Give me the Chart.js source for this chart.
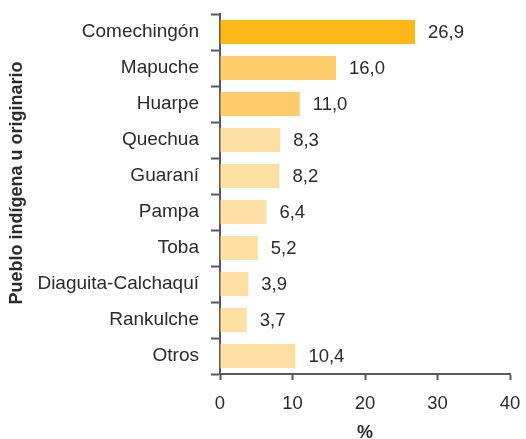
<!DOCTYPE html>
<html lang="es">
<head>
<meta charset="utf-8">
<title>Pueblo indígena u originario</title>
<script src="https://cdn.jsdelivr.net/npm/chart.js@4.4.1/dist/chart.umd.min.js"></script>
<style>
  html, body { margin: 0; padding: 0; background: #fff; }
  #wrap { position: relative; width: 526px; height: 439px; }
</style>
</head>
<body>
<div id="wrap"><canvas id="grafico"></canvas></div>
<script>
// Datos
const pueblos = ['Comechingón', 'Mapuche', 'Huarpe', 'Quechua', 'Guaraní', 'Pampa', 'Toba', 'Diaguita-Calchaquí', 'Rankulche', 'Otros'];
const porcentajes = [26.9, 16.0, 11.0, 8.3, 8.2, 6.4, 5.2, 3.9, 3.7, 10.4];
const ticksX = [0, 10, 20, 30, 40];

const colores = {
    fuerte: '#fbb817',
    medio: '#fecb6a',
    claro: '#fedfa3',
    eje: '#5a5a5a',
    texto: '#2b2b2b'
};

const fuente = '"Liberation Sans", Arial, sans-serif';

const coloresBarras = porcentajes.map((v, i) => i === 0 ? colores.fuerte : (i < 3 ? colores.medio : colores.claro));

// Etiquetas de valor a la derecha de cada barra (coma decimal)
const etiquetasValor = {
    id: 'etiquetasValor',
    afterDatasetsDraw(chart) {
        const { ctx } = chart;
        const meta = chart.getDatasetMeta(0);
        ctx.save();
        ctx.font = '18.5px ' + fuente;
        ctx.fillStyle = colores.texto;
        ctx.textBaseline = 'middle';
        ctx.textAlign = 'left';
        meta.data.forEach((bar, i) => {
            const txt = porcentajes[i].toFixed(1).replace('.', ',');
            ctx.fillText(txt, bar.x + 13, bar.y + 1);
        });
        ctx.restore();
    }
};

// Título del eje vertical, un poco por encima del centro del área
const tituloEjeY = {
    id: 'tituloEjeY',
    afterDraw(chart) {
        const { ctx, chartArea } = chart;
        ctx.save();
        ctx.translate(17, (chartArea.top + chartArea.bottom) / 2 - 11);
        ctx.rotate(-Math.PI / 2);
        ctx.font = 'bold 18px ' + fuente;
        ctx.fillStyle = colores.texto;
        ctx.textAlign = 'center';
        ctx.textBaseline = 'middle';
        ctx.fillText('Pueblo indígena u originario', 0, 0);
        ctx.restore();
    }
};

new Chart(document.getElementById('grafico'), {
    type: 'bar',
    data: {
        labels: pueblos,
        datasets: [{
            data: porcentajes,
            backgroundColor: coloresBarras,
            borderWidth: 0,
            barPercentage: 0.67,
            categoryPercentage: 1
        }]
    },
    options: {
        indexAxis: 'y',
        responsive: true,
        maintainAspectRatio: false,
        animation: false,
        layout: { padding: { top: 14, right: 16, left: 6, bottom: 0 } },
        plugins: {
            legend: { display: false },
            tooltip: { enabled: false }
        },
        scales: {
            x: {
                min: 0,
                max: 40,
                afterBuildTicks(scale) {
                    scale.ticks = ticksX.map(v => ({ value: v }));
                },
                afterFit(scale) {
                    scale.height = 65;
                    scale.paddingLeft = 0;
                    scale.paddingRight = 0;
                },
                border: { display: true, color: colores.eje, width: 2 },
                grid: {
                    drawOnChartArea: false,
                    drawTicks: true,
                    tickLength: 6,
                    tickWidth: 2,
                    color: colores.eje
                },
                ticks: {
                    color: colores.texto,
                    padding: 13,
                    font: { family: fuente, size: 18.5 }
                },
                title: {
                    display: true,
                    text: '%',
                    color: colores.texto,
                    padding: { top: 0, bottom: -5 },
                    font: { family: fuente, size: 18, weight: 'bold' }
                }
            },
            y: {
                border: { display: true, color: colores.eje, width: 2 },
                grid: {
                    offset: true,
                    drawOnChartArea: false,
                    drawTicks: true,
                    tickLength: 9,
                    tickWidth: 2,
                    color: colores.eje
                },
                ticks: {
                    color: colores.texto,
                    padding: 12,
                    font: { family: fuente, size: 19 }
                },
                afterFit(scale) {
                    scale.width = 214;
                    scale.paddingTop = 0;
                    scale.paddingBottom = 0;
                }
            }
        }
    },
    plugins: [etiquetasValor, tituloEjeY]
});
</script>
</body>
</html>
